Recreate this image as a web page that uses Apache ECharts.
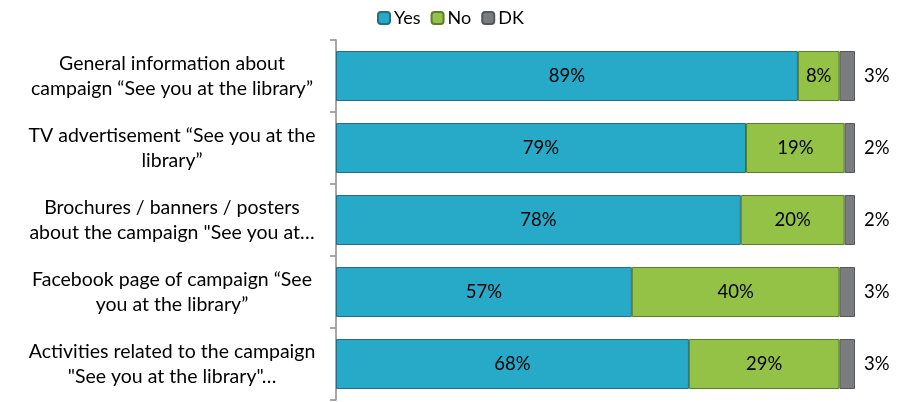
<!DOCTYPE html>
<html><head><meta charset="utf-8">
<script src="https://cdn.jsdelivr.net/npm/echarts@6/dist/echarts.min.js"></script>
<style>html,body{margin:0;padding:0;background:#fff}#c{width:915px;height:402px}</style>
</head><body><div id="c"></div>
<script>
var categories = [
  'General information about\ncampaign \u201cSee you at the library\u201d',
  'TV advertisement \u201cSee you at the\nlibrary\u201d',
  'Brochures / banners / posters\nabout the campaign "See you at\u2026',
  'Facebook page of campaign \u201cSee\nyou at the library\u201d',
  'Activities related to the campaign\n"See you at the library"\u2026'
];
var yesValues = [89, 79, 78, 57, 68];
var noValues = [8, 19, 20, 40, 29];
var dkValues = [3, 2, 2, 3, 3];
var seriesNames = ['Yes', 'No', 'DK'];

var FONT = 'Lato';
var chart = echarts.init(document.getElementById('c'));
function pct(p){ return p.value + '%'; }
chart.setOption({
  animation: false,
  textStyle: { fontFamily: FONT },
  legend: {
    top: 4, left: 372, itemWidth: 12, itemHeight: 12, itemGap: 10,
    textStyle: { fontSize: 18, color: '#000', fontFamily: FONT, padding: [0, 0, 0, -1] },
    data: seriesNames
  },
  grid: { left: 336, right: 60, top: 40, bottom: 2 },
  xAxis: { type: 'value', min: 0, max: 100, show: false },
  yAxis: {
    type: 'category', inverse: true, data: categories,
    axisLine: { lineStyle: { color: '#8c8c8c', width: 1.5 } },
    axisTick: { show: true, length: 6, lineStyle: { color: '#8c8c8c', width: 1.5 } },
    axisLabel: { align: 'center', margin: 164, fontSize: 19.5, lineHeight: 25, color: '#000', fontFamily: FONT }
  },
  series: [
    { name: seriesNames[0], type: 'bar', stack: 't', barWidth: 50, data: yesValues,
      itemStyle: { color: '#27A9C8', borderColor: '#236e80', borderWidth: 1 },
      label: { show: true, position: 'inside', color: '#000', fontSize: 18.5, formatter: pct } },
    { name: seriesNames[1], type: 'bar', stack: 't', barWidth: 50, data: noValues,
      itemStyle: { color: '#93C247', borderColor: '#5e7d2e', borderWidth: 1 },
      label: { show: true, position: 'inside', color: '#000', fontSize: 18.5, formatter: pct } },
    { name: seriesNames[2], type: 'bar', stack: 't', barWidth: 50, data: dkValues,
      itemStyle: { color: '#7a7c80', borderColor: '#55575a', borderWidth: 1 },
      label: { show: true, position: 'right', distance: 9, color: '#000', fontSize: 18.5, formatter: pct } }
  ]
});
</script></body></html>
